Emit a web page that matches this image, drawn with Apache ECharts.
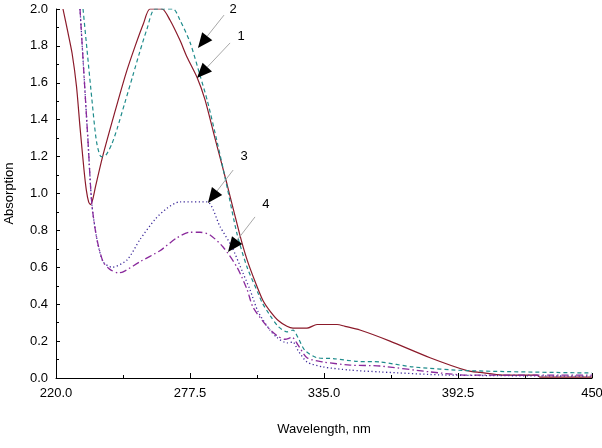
<!DOCTYPE html>
<html>
<head>
<meta charset="utf-8">
<script src="https://cdn.jsdelivr.net/npm/echarts@6/dist/echarts.min.js"></script>
<style>
html,body{margin:0;padding:0;background:#fff;}
#chart{width:602px;height:448px;}
</style>
</head>
<body>
<div id="chart"></div>
<script>
// Wavelength (nm) / absorption pairs
const curve1 = [[223.0,2.0],[225.0,1.88],[226.9,1.76],[228.8,1.58],[230.3,1.36],[232.0,1.13],[233.0,1.02],[234.0,0.955],[234.8,0.94],[235.8,0.97],[237.0,1.04],[240.0,1.20],[245.0,1.43],[250.0,1.65],[254.0,1.80],[257.5,1.92],[260.3,2.0],[265.5,2.0],[268.9,1.94],[273.2,1.83],[276.2,1.74],[280.5,1.63],[283.9,1.51],[288.2,1.30],[293.4,1.05],[299.0,0.77],[302.0,0.64],[305.5,0.52],[308.8,0.42],[312.0,0.36],[315.5,0.31],[319.1,0.28],[321.7,0.27],[326.0,0.27],[327.7,0.27],[332.0,0.29],[340.6,0.29],[344.0,0.28],[350.4,0.26],[363.3,0.20],[380.5,0.11],[396.4,0.04],[402.0,0.03],[411.8,0.016],[426.4,0.016],[427.7,0.005],[450.0,0.005]];
const curve2 = [[231.6,2.0],[233.3,1.78],[235.4,1.51],[237.4,1.28],[239.4,1.20],[241.5,1.21],[244.0,1.27],[246.2,1.35],[249.5,1.49],[253.0,1.64],[256.0,1.77],[259.0,1.89],[262.5,2.0],[270.2,2.0],[273.2,1.94],[277.5,1.82],[281.8,1.64],[285.0,1.50],[289.5,1.26],[293.5,1.03],[297.7,0.78],[302.0,0.60],[306.7,0.46],[308.4,0.41],[311.8,0.34],[315.3,0.28],[319.1,0.25],[321.7,0.26],[323.8,0.22],[326.8,0.15],[332.0,0.11],[338.9,0.105],[349.2,0.09],[359.0,0.087],[373.2,0.06],[396.4,0.04],[450.0,0.027]];
const curve3 = [[230.3,2.0],[233.7,1.29],[235.4,0.94],[237.6,0.75],[240.2,0.63],[244.0,0.60],[250.5,0.64],[256.0,0.75],[262.5,0.86],[267.6,0.92],[273.2,0.955],[284.8,0.955],[290.4,0.82],[295.5,0.71],[300.2,0.57],[303.2,0.48],[306.7,0.36],[311.8,0.26],[314.8,0.22],[319.1,0.19],[321.7,0.195],[323.8,0.15],[327.7,0.087],[334.6,0.06],[346.2,0.043],[359.0,0.033],[387.8,0.016],[450.0,0.01]];
const curve4 = [[230.3,2.0],[233.7,1.29],[235.4,0.94],[237.6,0.75],[240.2,0.63],[243.0,0.59],[246.6,0.57],[248.8,0.575],[256.0,0.63],[264.6,0.69],[271.9,0.76],[277.5,0.79],[281.8,0.79],[286.1,0.775],[291.7,0.71],[297.7,0.60],[302.0,0.48],[304.5,0.385],[310.5,0.28],[314.8,0.23],[318.3,0.21],[321.3,0.22],[323.8,0.18],[327.7,0.11],[334.6,0.087],[346.2,0.07],[359.0,0.065],[380.5,0.033],[396.4,0.016],[450.0,0.016]];
const curveNames = ['1','2','3','4'];
// annotation arrows: [labelX, labelY, tailX, tailY, tipX, tipY] in nm / absorption
const arrowLabels = ['2','1','3','4'];
const arrowData = [
  [296.0,2.0, 292.1,1.967, 280.9,1.789],
  [299.4,1.85, 294.7,1.816, 280.5,1.626],
  [300.7,1.203, 296.0,1.127, 285.2,0.949],
  [310.1,0.943, 305.4,0.873, 293.8,0.683]
];
const xTicks = [220.0, 277.5, 335.0, 392.5, 450];
const X0 = 220;

const chart = echarts.init(document.getElementById('chart'), null, {renderer:'canvas'});
const font = 'Liberation Sans, Arial, sans-serif';
const shift = arr => arr.map(p => [p[0]-X0, p[1]]);
const styles = [
  {color:'#8b1a2a', type:'solid', width:1.2},
  {color:'#1f8c8c', type:[4,3], width:1.2},
  {color:'#3d2a9a', type:[1.2,2.5], width:1.3},
  {color:'#8a2a9c', type:[7,3,1.5,3], width:1.3}
];
const curves = [curve1, curve2, curve3, curve4];

chart.setOption({
  animation:false,
  backgroundColor:'#fff',
  grid:{left:56, right:10, top:9, bottom:70, containLabel:false, outerBoundsMode:'none'},
  xAxis:{
    type:'value', min:0, max:xTicks[xTicks.length-1]-X0, interval:xTicks[1]-xTicks[0],
    name:'Wavelength, nm', nameLocation:'middle', nameGap:45,
    nameTextStyle:{color:'#000', fontSize:13, fontFamily:font},
    axisLine:{lineStyle:{color:'#000', width:1}},
    axisTick:{inside:true, length:5, lineStyle:{color:'#000'}},
    minorTick:{show:true, splitNumber:2, length:3, lineStyle:{color:'#000'}},
    splitLine:{show:false},
    axisLabel:{color:'#000', fontSize:13, fontFamily:font, margin:9,
      formatter:v => { const w = v + X0; return w === 450 ? '450' : w.toFixed(1); }}
  },
  yAxis:{
    type:'value', min:0, max:2, interval:0.2,
    name:'Absorption', nameLocation:'middle', nameGap:40,
    nameTextStyle:{color:'#000', fontSize:13, fontFamily:font},
    axisLine:{show:true, lineStyle:{color:'#000', width:1}},
    axisTick:{show:true, inside:true, length:4, lineStyle:{color:'#000'}},
    minorTick:{show:true, splitNumber:2, length:3, lineStyle:{color:'#000'}},
    splitLine:{show:false},
    axisLabel:{color:'#000', fontSize:13, fontFamily:font, margin:8, formatter:v => v.toFixed(1)}
  },
  series: curves.map((c,i) => ({
    name:curveNames[i], type:'line', data:shift(c), showSymbol:false, symbol:'none',
    smooth:0.25, clip:true,
    lineStyle:{color:styles[i].color, type:styles[i].type, width:styles[i].width}
  }))
});

// annotations drawn from data coordinates
const elems = [];
arrowData.forEach((a,i) => {
  const L = chart.convertToPixel({gridIndex:0}, [a[0]-X0, a[1]]);
  const T0 = chart.convertToPixel({gridIndex:0}, [a[2]-X0, a[3]]);
  const P = chart.convertToPixel({gridIndex:0}, [a[4]-X0, a[5]]);
  const dx = P[0]-T0[0], dy = P[1]-T0[1], len = Math.hypot(dx,dy);
  const ux = dx/len, uy = dy/len, px = -uy, py = ux;
  const hl = 15, hw = 6.5;
  const bx = P[0]-ux*hl, by = P[1]-uy*hl;
  elems.push({type:'line', shape:{x1:T0[0], y1:T0[1], x2:bx, y2:by}, style:{stroke:'#a8a8a8', lineWidth:1}, z:10});
  elems.push({type:'polygon', shape:{points:[[P[0],P[1]],[bx+px*hw,by+py*hw],[bx-px*hw,by-py*hw]]}, style:{fill:'#000'}, z:11});
  elems.push({type:'text', x:L[0], y:L[1], style:{text:arrowLabels[i], fill:'#000', font:'13px '+font, textAlign:'center', textVerticalAlign:'middle'}, z:11});
});
chart.setOption({graphic:elems});
</script>
</body>
</html>
